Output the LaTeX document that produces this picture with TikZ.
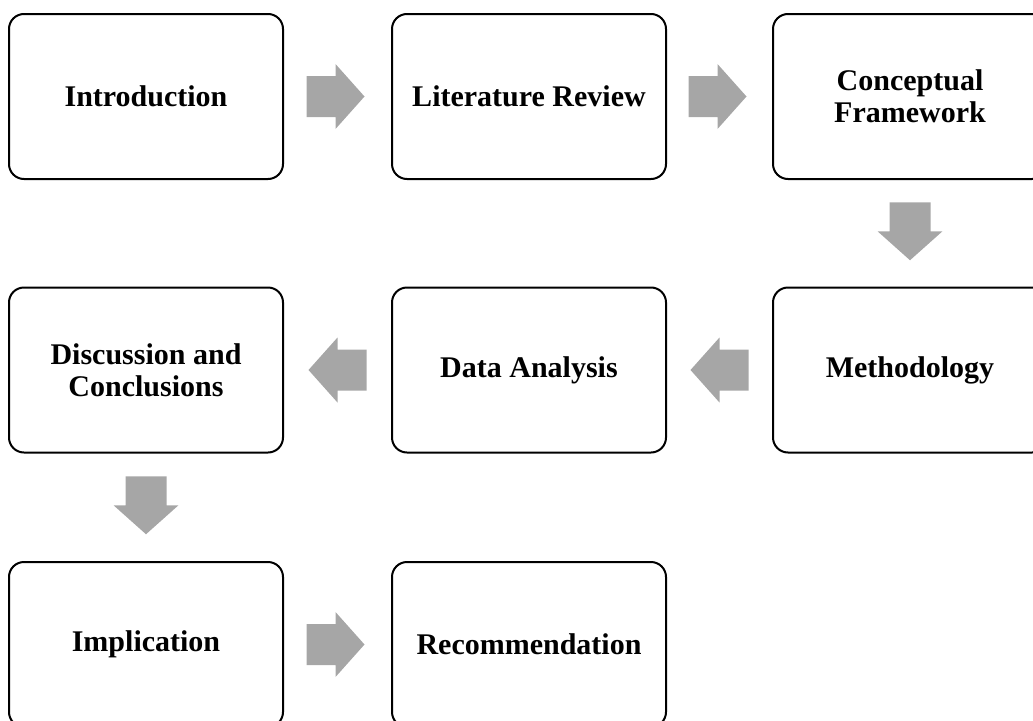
\documentclass[tikz,border=0pt]{standalone}
\usepackage{fontspec}
\setmainfont{Liberation Serif}
\usetikzlibrary{calc}

\definecolor{arrowgray}{RGB}{166,166,166}

\tikzset{
  stage/.style={draw=black, line width=2pt, rounded corners=15pt,
    minimum width=274pt, minimum height=165pt, align=center,
    inner sep=0pt, fill=white,
    font=\fontsize{30}{32}\selectfont\bfseries},
  arrowfill/.style={fill=arrowgray, draw=none}
}

% block arrow centred on a coordinate, pointing in direction #2 (degrees)
\newcommand\blockarrow[2]{%
  \fill[arrowfill, shift={(#1)}, rotate=#2]
    (-29,-20.5) -- (0,-20.5) -- (0,-32.5) -- (29,0) -- (0,32.5)
    -- (0,20.5) -- (-29,20.5) -- cycle;}

\begin{document}
\begin{tikzpicture}[x=1pt, y=1pt]
  \useasboundingbox (0,0) rectangle (1033,-720);

  % row 1
  \node[stage] (intro) at (146,-96.5) {Introduction};
  \node[stage] (lit)   at (529,-96.5) {Literature Review};
  \node[stage] (conc)  at (910,-96.5) {Conceptual\\Framework};
  % row 2
  \node[stage] (disc)  at (146,-370) {Discussion and\\Conclusions};
  \node[stage] (data)  at (529,-370) {Data Analysis};
  \node[stage] (meth)  at (910,-370) {Methodology};
  % row 3
  \node[stage] (impl)  at (146,-644.5) {Implication};
  \node[stage] (recom) at (529,-644.5) {Recommendation};

  % arrow anchors between consecutive stages
  \coordinate (a1) at ($(intro.east)!0.5!(lit.west)+(-2,0)$);
  \coordinate (a2) at ($(lit.east)!0.5!(conc.west)+(-2,0)$);
  \coordinate (a3) at ($(conc.south)!0.5!(meth.north)+(0,2)$);
  \coordinate (a4) at ($(meth.west)!0.5!(data.east)$);
  \coordinate (a5) at ($(data.west)!0.5!(disc.east)$);
  \coordinate (a6) at ($(disc.south)!0.5!(impl.north)+(0,2)$);
  \coordinate (a7) at ($(impl.east)!0.5!(recom.west)+(-2,0)$);

  \blockarrow{a1}{0}
  \blockarrow{a2}{0}
  \blockarrow{a3}{-90}
  \blockarrow{a4}{180}
  \blockarrow{a5}{180}
  \blockarrow{a6}{-90}
  \blockarrow{a7}{0}
\end{tikzpicture}
\end{document}
